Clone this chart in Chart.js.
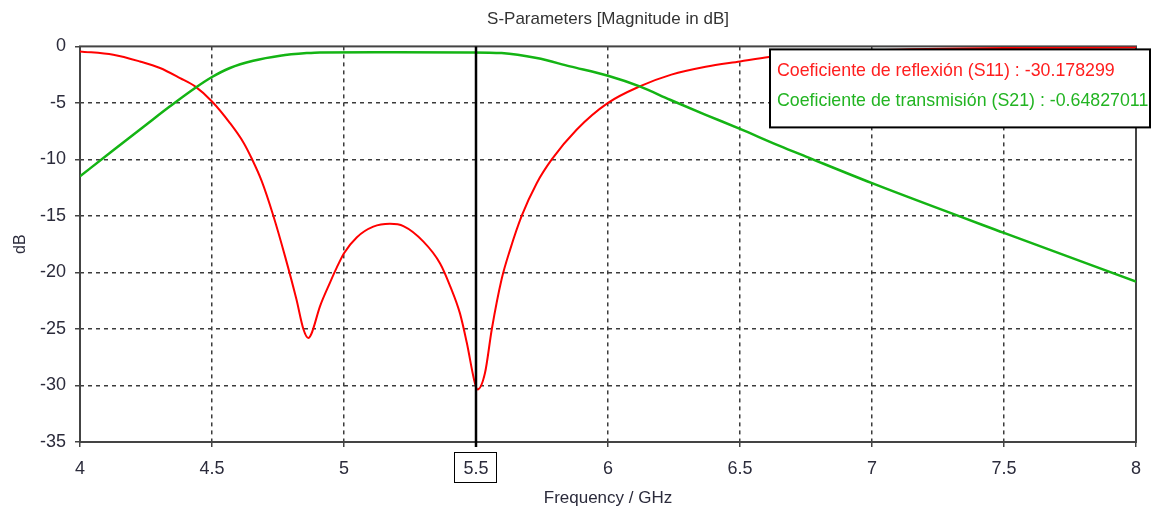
<!DOCTYPE html>
<html>
<head>
<meta charset="utf-8">
<script src="https://cdn.jsdelivr.net/npm/chart.js@4/dist/chart.umd.min.js"></script>
<style>
  html, body { margin: 0; padding: 0; background: #fff; }
  #chart { display: block; }
</style>
</head>
<body>
<canvas id="chart" width="1153" height="509"></canvas>
<script>
// Labels and ticks
const chartTitle = 'S-Parameters [Magnitude in dB]';
const xTitle = 'Frequency / GHz';
const yTitle = 'dB';
const xTicks = [4, 4.5, 5, 5.5, 6, 6.5, 7, 7.5, 8];
const yTicks = [0, -5, -10, -15, -20, -25, -30, -35];

// S11 - reflection (red)
const s11Name = 'Coeficiente de reflexión (S11)';
const s11Freq = [4.0, 4.126, 4.227, 4.303, 4.379, 4.436, 4.5, 4.568, 4.619, 4.65, 4.688, 4.732, 4.777, 4.82,
                 4.846, 4.865, 4.877, 4.909, 4.947, 4.972, 5.0, 5.048, 5.111, 5.174, 5.225, 5.3, 5.364, 5.402,
                 5.439, 5.465, 5.496, 5.506, 5.534, 5.56, 5.597, 5.629, 5.673, 5.73, 5.787, 5.881, 6.0, 6.12,
                 6.24, 6.37, 6.5, 6.61, 6.75, 7.0, 7.5, 8.0];
const s11Db   = [-0.44, -0.73, -1.33, -1.91, -2.8, -3.54, -4.87, -6.78, -8.5, -9.9, -11.9, -14.96, -18.6, -22.4,
                 -25.0, -25.8, -25.4, -23.0, -20.9, -19.6, -18.3, -16.9, -15.95, -15.7, -15.9, -17.25, -19.2, -21.2,
                 -23.6, -26.2, -29.8, -30.35, -28.9, -25.0, -20.6, -18.0, -15.0, -12.1, -10.0, -7.37, -5.0, -3.54,
                 -2.5, -1.8, -1.33, -0.94, -0.6, -0.35, -0.15, -0.1];

// S21 - transmission (green)
const s21Name = 'Coeficiente de transmisión (S21)';
const s21Freq = [4.0, 4.126, 4.253, 4.341, 4.436, 4.5, 4.568, 4.656, 4.758, 4.859, 4.909, 5.2, 5.477, 5.597,
                 5.73, 5.856, 6.0, 6.12, 6.235, 6.37, 6.5, 6.65, 6.75, 7.0, 7.5, 8.0];
const s21Db   = [-11.5, -9.18, -6.88, -5.3, -3.68, -2.71, -1.91, -1.27, -0.82, -0.59, -0.53, -0.52, -0.53, -0.59,
                 -1.03, -1.77, -2.6, -3.54, -4.72, -6.05, -7.3, -8.8, -9.75, -12.1, -16.5, -20.8];

// Marker readout
const markerFreq = 5.5;
const markerS11 = '-30.178299';
const markerS21 = '-0.64827011';

const FONT = "'Liberation Sans', Arial, sans-serif";
const RED = '#ff0000';
const GREEN = '#14b414';

const toPoints = (xs, ys) => xs.map((x, i) => ({ x: x, y: ys[i] }));

const gridColor = (edges) => (ctx) => edges.includes(ctx.tick && ctx.tick.value) ? 'rgba(0,0,0,0)' : '#3c3c3c';

// frame, marker line, boxed marker tick, readout legend
const overlayPlugin = {
    id: 'overlay',
    beforeDatasetsDraw(chart) {
        const { ctx, chartArea: a } = chart;
        ctx.save();
        ctx.strokeStyle = '#444';
        ctx.lineWidth = 2;
        ctx.strokeRect(a.left, a.top, a.right - a.left, a.bottom - a.top);
        ctx.restore();
    },
    afterDatasetsDraw(chart) {
        const { ctx, chartArea: a, scales: { x } } = chart;
        const mx = Math.round(x.getPixelForValue(markerFreq));
        ctx.save();
        ctx.strokeStyle = '#000';
        ctx.lineWidth = 2.5;
        ctx.beginPath();
        ctx.moveTo(mx, a.top);
        ctx.lineTo(mx, a.bottom + 5);
        ctx.stroke();

        ctx.lineWidth = 1;
        ctx.strokeRect(mx - 21.5, a.bottom + 10.5, 42, 30);

        // readout box
        const bx = a.right - 366, by = a.top + 3, bw = 380, bh = 78;
        ctx.fillStyle = '#fff';
        ctx.fillRect(bx, by, bw, bh);
        ctx.lineWidth = 2;
        ctx.strokeStyle = '#000';
        ctx.strokeRect(bx, by, bw, bh);
        ctx.font = '17.8px ' + FONT;
        ctx.textBaseline = 'middle';
        ctx.textAlign = 'left';
        ctx.fillStyle = '#ff1e1e';
        ctx.fillText(s11Name + ' : ' + markerS11, bx + 7, by + 22);
        ctx.fillStyle = '#22b422';
        ctx.fillText(s21Name + ' : ' + markerS21, bx + 7, by + 52);
        ctx.restore();
    }
};

new Chart(document.getElementById('chart'), {
    type: 'line',
    data: {
        datasets: [
            {
                label: s21Name,
                data: toPoints(s21Freq, s21Db),
                borderColor: GREEN,
                borderWidth: 2.5,
                pointRadius: 0,
                cubicInterpolationMode: 'monotone',
                fill: false
            },
            {
                label: s11Name,
                data: toPoints(s11Freq, s11Db),
                borderColor: RED,
                borderWidth: 2,
                pointRadius: 0,
                cubicInterpolationMode: 'monotone',
                fill: false
            }
        ]
    },
    options: {
        responsive: false,
        animation: false,
        devicePixelRatio: 1,
        layout: { padding: { top: 0, right: 17, left: 0, bottom: 0 } },
        plugins: {
            legend: { display: false },
            tooltip: { enabled: false },
            title: {
                display: true,
                text: chartTitle,
                fullSize: false,
                color: '#333',
                font: { family: FONT, size: 17, weight: 'normal' },
                padding: { top: 9, bottom: 17 }
            }
        },
        scales: {
            x: {
                type: 'linear',
                min: 4,
                max: 8,
                afterBuildTicks: (s) => { s.ticks = xTicks.map(v => ({ value: v })); },
                afterFit: (s) => { s.height = 67; },
                ticks: {
                    color: '#2b2b3b',
                    font: { family: FONT, size: 18 },
                    padding: 11,
                    maxRotation: 0,
                    callback: (v) => String(v)
                },
                grid: {
                    color: gridColor([4, 8]),
                    lineWidth: 1.5,
                    drawTicks: true,
                    tickLength: 5,
                    tickColor: '#444',
                    tickWidth: 1.5
                },
                border: { display: false, dash: [4, 4] },
                title: {
                    display: true,
                    text: xTitle,
                    color: '#2b2b3b',
                    font: { family: FONT, size: 17 },
                    padding: { top: 0, bottom: 0 }
                }
            },
            y: {
                type: 'linear',
                min: -35,
                max: 0,
                afterBuildTicks: (s) => { s.ticks = yTicks.map(v => ({ value: v })); },
                afterFit: (s) => { s.width = 80; },
                ticks: {
                    color: '#2b2b3b',
                    font: { family: FONT, size: 18 },
                    padding: 9,
                    callback: (v) => String(v)
                },
                grid: {
                    color: gridColor([0, -35]),
                    lineWidth: 1.5,
                    drawTicks: true,
                    tickLength: 5,
                    tickColor: '#444',
                    tickWidth: 1.5
                },
                border: { display: false, dash: [4, 4] },
                title: {
                    display: true,
                    text: yTitle,
                    color: '#2b2b3b',
                    font: { family: FONT, size: 16 },
                    padding: { top: 11, bottom: 0 }
                }
            }
        }
    },
    plugins: [overlayPlugin]
});
</script>
</body>
</html>
